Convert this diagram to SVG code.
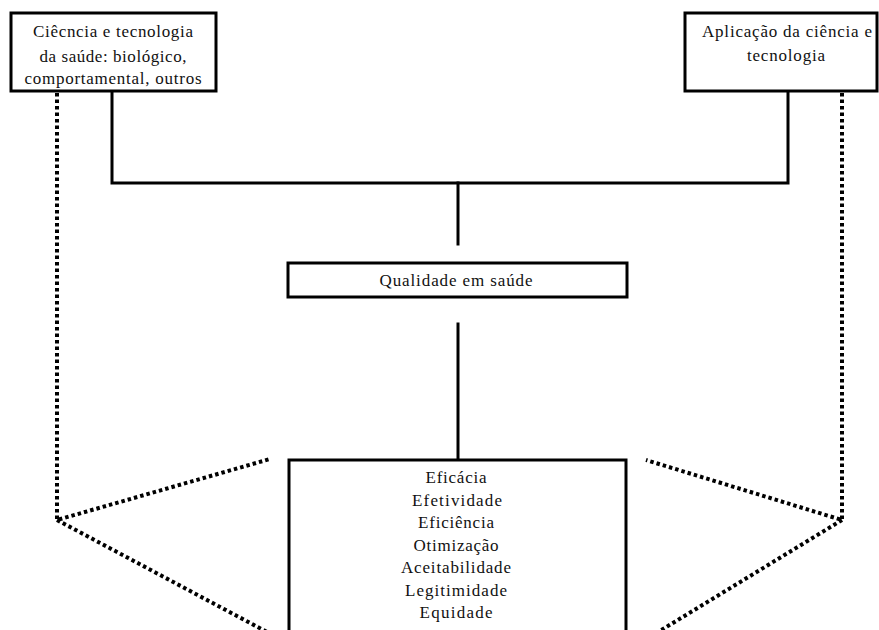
<svg xmlns="http://www.w3.org/2000/svg" width="879" height="630" viewBox="0 0 879 630">
  <style>
    .box { fill: #ffffff; stroke: #000000; stroke-width: 3; }
    .solid { fill: none; stroke: #000000; stroke-width: 3; stroke-linecap: square; }
    .dotted { fill: none; stroke: #000000; stroke-width: 4; stroke-dasharray: 3.5 3; }
    .label { font-family: "Liberation Serif", "Times New Roman", serif; font-size: 17px; fill: #111111; text-anchor: middle; }
  </style>
  <rect x="0" y="0" width="879" height="630" fill="#ffffff"/>

  <!-- connectors -->
  <g id="connectors">
    <path class="solid" d="M112 92 L112 183 L788 183 L788 92"/>
    <path class="solid" d="M458 183 L458 244"/>
    <path class="solid" d="M458 324 L458 460"/>
    <path class="dotted" d="M57 93 L57 520 L270 459"/>
    <path class="dotted" d="M57 520 L282 640"/>
    <path class="dotted" d="M842 93 L842 520 L646 460"/>
    <path class="dotted" d="M842 520 L645 640"/>
  </g>

  <!-- science & technology node -->
  <g id="ciencia">
    <rect class="box" x="11" y="13" width="205" height="78"/>
    <text class="label" x="113" y="37" textLength="160" lengthAdjust="spacing">Ciêcncia e tecnologia</text>
    <text class="label" x="113" y="62" textLength="147" lengthAdjust="spacing">da saúde: biológico,</text>
    <text class="label" x="113" y="84" textLength="177" lengthAdjust="spacing">comportamental, outros</text>
  </g>

  <!-- application node -->
  <g id="aplicacao">
    <rect class="box" x="685" y="13" width="192" height="78"/>
    <text class="label" x="787" y="37" textLength="170" lengthAdjust="spacing">Aplicação da ciência e</text>
    <text class="label" x="786" y="61" textLength="78" lengthAdjust="spacing">tecnologia</text>
  </g>

  <!-- quality node -->
  <g id="qualidade">
    <rect class="box" x="288" y="263" width="339" height="34"/>
    <text class="label" x="456" y="286" textLength="153" lengthAdjust="spacing">Qualidade em saúde</text>
  </g>

  <!-- attributes node -->
  <g id="atributos">
    <rect class="box" x="289" y="460" width="337" height="190"/>
    <text class="label" x="456" y="483" textLength="61" lengthAdjust="spacing">Eficácia</text>
    <text class="label" x="457" y="505.5" textLength="90" lengthAdjust="spacing">Efetividade</text>
    <text class="label" x="456" y="528" textLength="76" lengthAdjust="spacing">Eficiência</text>
    <text class="label" x="456" y="550.5" textLength="85" lengthAdjust="spacing">Otimização</text>
    <text class="label" x="456" y="573" textLength="110" lengthAdjust="spacing">Aceitabilidade</text>
    <text class="label" x="456" y="595.5" textLength="102" lengthAdjust="spacing">Legitimidade</text>
    <text class="label" x="456" y="618" textLength="73" lengthAdjust="spacing">Equidade</text>
  </g>
</svg>
